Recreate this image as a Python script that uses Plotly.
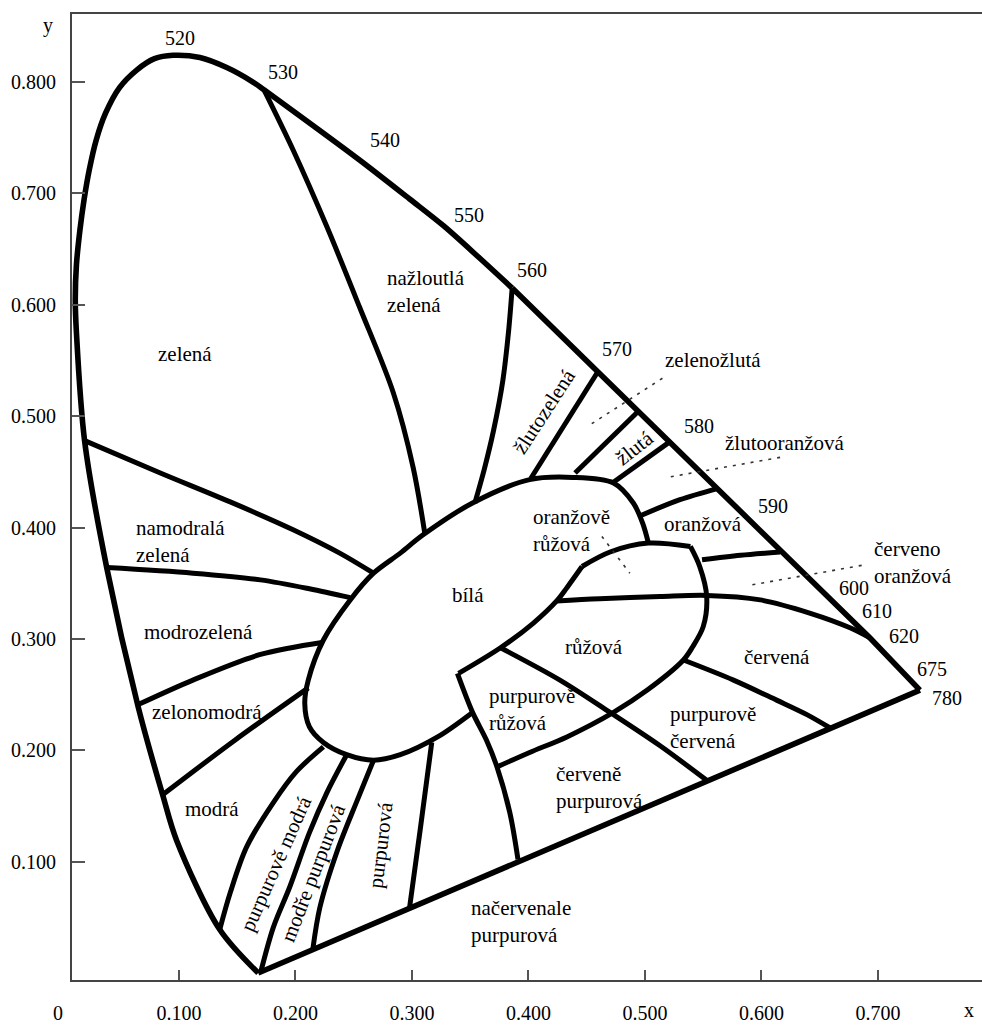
import plotly.graph_objects as go

FONT = "Liberation Serif, 'Times New Roman', Times, serif"

# Spectral locus, curved part: from the violet end up over the green peak to 560 nm
locus_x = [0.168, 0.135, 0.098, 0.086, 0.065, 0.038, 0.019, 0.012, 0.011, 0.012, 0.015, 0.0185,
           0.023, 0.029, 0.037, 0.049, 0.064, 0.079, 0.095, 0.118, 0.141, 0.1635, 0.173, 0.215,
           0.255, 0.298, 0.327, 0.358, 0.386]
locus_y = [0.000, 0.039, 0.119, 0.160, 0.239, 0.364, 0.478, 0.575, 0.604, 0.636, 0.667, 0.694,
           0.721, 0.748, 0.772, 0.795, 0.811, 0.821, 0.824, 0.822, 0.813, 0.800, 0.793, 0.761,
           0.730, 0.695, 0.671, 0.642, 0.615]
# Straight part of the locus: 560 nm -> 620 nm -> 780 nm
edge_x = [0.386, 0.693, 0.736]
edge_y = [0.615, 0.301, 0.254]
# Line of purples: 780 nm back to the violet end
purple_x = [0.736, 0.168]
purple_y = [0.254, 0.000]

# Wavelength marks along the locus (nm)
wl_labels = ["520", "530", "540", "550", "560", "570", "580", "590", "600", "610", "620", "675", "780"]
wl_x = [0.101, 0.189, 0.277, 0.349, 0.403, 0.476, 0.546, 0.610, 0.679, 0.699, 0.722, 0.746, 0.759]
wl_y = [0.840, 0.809, 0.748, 0.681, 0.631, 0.560, 0.491, 0.419, 0.346, 0.325, 0.303, 0.273, 0.247]

# Boundaries between colour-name regions
b530_x = [0.173, 0.198, 0.227, 0.255, 0.284, 0.301, 0.311]
b530_y = [0.793, 0.739, 0.670, 0.598, 0.521, 0.454, 0.395]
b560_x = [0.386, 0.383, 0.378, 0.370, 0.362, 0.354]
b560_y = [0.615, 0.577, 0.532, 0.487, 0.452, 0.422]
b570_x = [0.459, 0.402]
b570_y = [0.539, 0.444]
b575_x = [0.493, 0.440]
b575_y = [0.503, 0.449]
b580_x = [0.520, 0.472]
b580_y = [0.476, 0.440]
b585_x = [0.562, 0.530, 0.497]
b585_y = [0.435, 0.425, 0.411]
b595_x = [0.616, 0.582, 0.549]
b595_y = [0.378, 0.375, 0.371]

white_x = [0.352, 0.322, 0.290, 0.267, 0.244, 0.224, 0.212, 0.208, 0.211, 0.224, 0.247, 0.267,
           0.290, 0.309, 0.352, 0.401, 0.438, 0.473, 0.490, 0.498, 0.503]
white_y = [0.234, 0.212, 0.196, 0.191, 0.196, 0.207, 0.221, 0.242, 0.263, 0.299, 0.335, 0.359,
           0.377, 0.393, 0.422, 0.443, 0.445, 0.440, 0.422, 0.404, 0.386]

pink_top_x = [0.446, 0.470, 0.503, 0.539]
pink_top_y = [0.365, 0.378, 0.386, 0.383]
pink_outer_x = [0.539, 0.547, 0.553, 0.550, 0.541, 0.533, 0.502, 0.473, 0.433, 0.401, 0.373]
pink_outer_y = [0.383, 0.365, 0.338, 0.311, 0.293, 0.281, 0.254, 0.234, 0.212, 0.198, 0.185]
pink_inner_x = [0.340, 0.376, 0.404, 0.425, 0.433, 0.446]
pink_inner_y = [0.269, 0.292, 0.314, 0.335, 0.346, 0.365]
purplish_left_x = [0.339, 0.352, 0.364, 0.373, 0.384, 0.391]
purplish_left_y = [0.269, 0.234, 0.209, 0.185, 0.144, 0.102]
pink_diag_x = [0.376, 0.427, 0.470, 0.513, 0.553]
pink_diag_y = [0.292, 0.263, 0.234, 0.204, 0.173]
red_top_x = [0.424, 0.461, 0.513, 0.553, 0.599, 0.642, 0.676, 0.693]
red_top_y = [0.334, 0.336, 0.338, 0.339, 0.335, 0.323, 0.310, 0.301]
red_low_x = [0.533, 0.576, 0.613, 0.639, 0.659]
red_low_y = [0.281, 0.263, 0.245, 0.232, 0.220]

green_low_x = [0.019, 0.084, 0.144, 0.198, 0.238, 0.267]
green_low_y = [0.478, 0.449, 0.423, 0.398, 0.377, 0.359]
bgreen_low_x = [0.038, 0.112, 0.170, 0.212, 0.247]
bgreen_low_y = [0.364, 0.359, 0.353, 0.345, 0.337]
gblue_top_x = [0.065, 0.112, 0.170, 0.224]
gblue_top_y = [0.241, 0.263, 0.286, 0.297]
blue_top_x = [0.086, 0.148, 0.211]
blue_top_y = [0.160, 0.209, 0.256]
blue_right_x = [0.135, 0.144, 0.158, 0.181, 0.201, 0.224]
blue_right_y = [0.039, 0.072, 0.113, 0.153, 0.181, 0.203]
pblue_right_x = [0.170, 0.181, 0.195, 0.212, 0.227, 0.244]
pblue_right_y = [0.000, 0.041, 0.077, 0.126, 0.162, 0.196]
bpurple_right_x = [0.215, 0.221, 0.236, 0.253, 0.267]
bpurple_right_y = [0.022, 0.059, 0.110, 0.155, 0.191]
purple_right_x = [0.298, 0.307, 0.317]
purple_right_y = [0.059, 0.128, 0.207]

# Dotted leaders from labels to narrow regions
lead1_x, lead1_y = [0.515, 0.451], [0.534, 0.491]
lead2_x, lead2_y = [0.616, 0.519], [0.463, 0.445]
lead3_x, lead3_y = [0.686, 0.589], [0.366, 0.348]
lead4_x, lead4_y = [0.463, 0.487], [0.392, 0.359]

# Region names: text, position, rotation, horizontal anchor
region_names = ["zelená", "nažloutlá<br>zelená", "žlutozelená", "zelenožlutá", "žlutá",
                "žlutooranžová", "oranžově<br>růžová", "oranžová", "červeno<br>oranžová", "bílá",
                "růžová", "červená", "purpurově<br>růžová", "purpurově<br>červená",
                "červeně<br>purpurová", "načervenale<br>purpurová", "namodralá<br>zelená",
                "modrozelená", "zelonomodrá", "modrá", "purpurově modrá", "modře purpurová",
                "purpurová"]
region_x = [0.105, 0.277, 0.413, 0.558, 0.491, 0.620, 0.402, 0.550, 0.695, 0.348, 0.456, 0.613,
            0.364, 0.520, 0.422, 0.349, 0.061, 0.117, 0.124, 0.128, 0.183, 0.215, 0.273]
region_y = [0.556, 0.612, 0.504, 0.550, 0.471, 0.476, 0.397, 0.403, 0.369, 0.339, 0.293, 0.284,
            0.237, 0.220, 0.167, 0.046, 0.387, 0.306, 0.234, 0.147, 0.098, 0.090, 0.115]
region_angle = [0, 0, -57, 0, -38, 0, 0, 0, 0, 0, 0, 0, 0, 0, 0, 0, 0, 0, 0, 0, -66, -69, -83]
region_anchor = ["center", "left", "center", "center", "center", "center", "left", "center", "left",
                 "center", "center", "center", "left", "left", "left", "left", "left", "center",
                 "center", "center", "center", "center", "center"]

x_ticks = [0.1, 0.2, 0.3, 0.4, 0.5, 0.6, 0.7]
y_ticks = [0.1, 0.2, 0.3, 0.4, 0.5, 0.6, 0.7, 0.8]

fig = go.Figure()


def add_line(xs, ys, width=5.0, shape="spline", dash="solid", color="black"):
    fig.add_trace(go.Scatter(x=xs, y=ys, mode="lines", hoverinfo="skip", showlegend=False,
                             line=dict(color=color, width=width, shape=shape, dash=dash,
                                       smoothing=0.9)))


add_line(locus_x, locus_y, width=5.6)
add_line(edge_x, edge_y, width=5.6, shape="linear")
add_line(purple_x, purple_y, width=5.6, shape="linear")

for xs, ys in [(b530_x, b530_y), (b560_x, b560_y), (b570_x, b570_y), (b575_x, b575_y),
               (b580_x, b580_y), (b585_x, b585_y), (b595_x, b595_y), (white_x, white_y),
               (pink_top_x, pink_top_y), (pink_outer_x, pink_outer_y),
               (pink_inner_x, pink_inner_y), (purplish_left_x, purplish_left_y),
               (pink_diag_x, pink_diag_y), (red_top_x, red_top_y), (red_low_x, red_low_y),
               (green_low_x, green_low_y), (bgreen_low_x, bgreen_low_y),
               (gblue_top_x, gblue_top_y), (blue_top_x, blue_top_y),
               (blue_right_x, blue_right_y), (pblue_right_x, pblue_right_y),
               (bpurple_right_x, bpurple_right_y), (purple_right_x, purple_right_y)]:
    add_line(xs, ys)

for xs, ys in [(lead1_x, lead1_y), (lead2_x, lead2_y), (lead3_x, lead3_y), (lead4_x, lead4_y)]:
    add_line(xs, ys, width=1.6, shape="linear", dash="3px,6px", color="#333")

annotations = []
for t, x, y in zip(wl_labels, wl_x, wl_y):
    annotations.append(dict(x=x, y=y, xref="x", yref="y", text=t, showarrow=False,
                            xanchor="center", yanchor="middle",
                            font=dict(family=FONT, size=20, color="black")))
for t, x, y, a, anc in zip(region_names, region_x, region_y, region_angle, region_anchor):
    annotations.append(dict(x=x, y=y, xref="x", yref="y", text=t, showarrow=False, textangle=a,
                            xanchor=anc, align="left", yanchor="middle",
                            font=dict(family=FONT, size=21, color="black")))

# origin label and axis names
for t, px, py in [("0", -0.0154, -0.034), ("x", 0.9857, -0.031), ("y", -0.026, 0.988)]:
    annotations.append(dict(x=px, y=py, xref="paper", yref="paper", text=t, showarrow=False,
                            xanchor="center", yanchor="middle",
                            font=dict(family=FONT, size=20, color="black")))

fig.update_layout(
    width=982, height=1025,
    margin=dict(l=72, r=0, t=14, b=45),
    paper_bgcolor="white", plot_bgcolor="white",
    font=dict(family=FONT, size=20, color="black"),
    annotations=annotations,
    xaxis=dict(range=[0.0082, 0.7893], showgrid=False, zeroline=False,
               showline=True, linecolor="#444", linewidth=2, mirror=True,
               ticks="inside", ticklen=10, tickwidth=1.5, tickcolor="#555",
               tickvals=x_ticks, ticktext=[f"{v:.3f}" for v in x_ticks],
               ticklabelstandoff=14, tickfont=dict(family=FONT, size=20, color="black")),
    yaxis=dict(range=[-0.0063, 0.8611], showgrid=False, zeroline=False,
               showline=True, linecolor="#444", linewidth=2,
               ticks="inside", ticklen=13, tickwidth=1.5, tickcolor="#555",
               tickvals=y_ticks, ticktext=[f"{v:.3f}" for v in y_ticks],
               ticklabelstandoff=10, tickfont=dict(family=FONT, size=20, color="black")),
)

fig.write_html("out.html")
